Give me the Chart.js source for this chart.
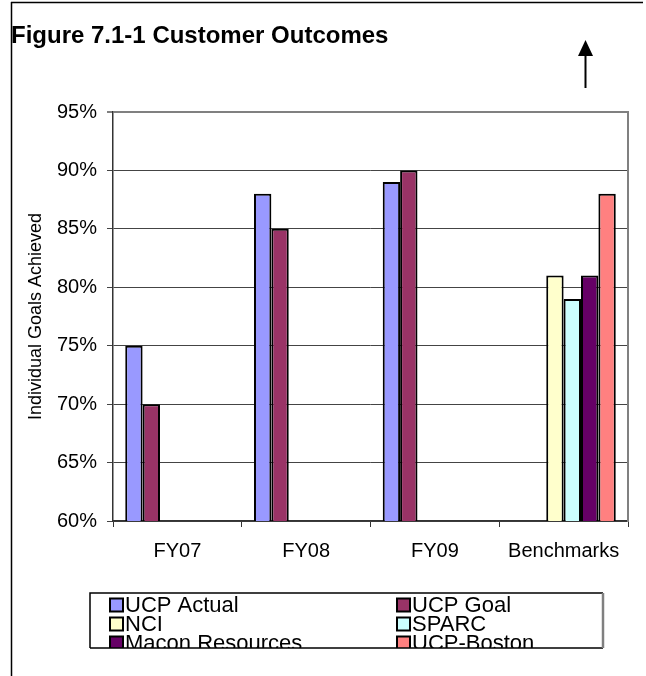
<!DOCTYPE html>
<html>
<head>
<meta charset="utf-8">
<script src="https://cdn.jsdelivr.net/npm/chart.js@4.4.1/dist/chart.umd.min.js"></script>
<style>
  html, body { margin: 0; padding: 0; background: #fff; }
  #wrap { width: 646px; height: 676px; }
</style>
</head>
<body>
<div id="wrap"><canvas id="chart" width="646" height="676"></canvas></div>
<script>
// categories and series
const categories = ['FY07', 'FY08', 'FY09', 'Benchmarks'];
const ucpActual = [75, 88, 89, null];
const ucpGoal = [70, 85, 90, null];
const nci = [null, null, null, 81];
const sparc = [null, null, null, 79];
const maconResources = [null, null, null, 81];
const ucpBoston = [null, null, null, 88];

const seriesNames = ['UCP Actual', 'UCP Goal', 'NCI', 'SPARC', 'Macon Resources', 'UCP-Boston'];
const seriesValues = [ucpActual, ucpGoal, nci, sparc, maconResources, ucpBoston];
const seriesColors = ['#9999ff', '#993366', '#ffffcc', '#ccffff', '#660066', '#ff8080'];

const yMin = 60, yMax = 95, yStep = 5;

const FONT = '"Liberation Sans", Arial, sans-serif';

// title, arrow, outer frame, plot border and the clipped legend box
const extras = {
  id: 'extras',
  afterDraw(chart) {
    const ctx = chart.ctx;
    const area = chart.chartArea;
    ctx.save();

    // outer frame (top and left only)
    ctx.strokeStyle = '#000';
    ctx.lineWidth = 1.5;
    ctx.beginPath();
    ctx.moveTo(11, 2.5); ctx.lineTo(643, 2.5);
    ctx.moveTo(11.5, 2); ctx.lineTo(11.5, 676);
    ctx.stroke();

    // title
    ctx.fillStyle = '#000';
    ctx.font = 'bold 24px ' + FONT;
    ctx.textBaseline = 'middle';
    ctx.textAlign = 'left';
    ctx.fillText('Figure 7.1-1 Customer Outcomes', 11, 36);

    // arrow
    ctx.lineWidth = 2;
    ctx.beginPath();
    ctx.moveTo(585.5, 54); ctx.lineTo(585.5, 88);
    ctx.stroke();
    ctx.beginPath();
    ctx.moveTo(585.5, 40); ctx.lineTo(578, 56); ctx.lineTo(593, 56);
    ctx.closePath();
    ctx.fill();

    // plot area right border
    ctx.strokeStyle = '#808080';
    ctx.lineWidth = 2;
    ctx.beginPath();
    ctx.moveTo(area.right, area.top - 1); ctx.lineTo(area.right, area.bottom + 1);
    ctx.stroke();

    // legend box, last row cut off by its bottom edge
    const bx = 90, by = 593, bw = 513, bh = 55;
    ctx.fillStyle = '#fff';
    ctx.fillRect(bx, by, bw, bh);
    ctx.save();
    ctx.beginPath();
    ctx.rect(bx, by, bw, bh);
    ctx.clip();
    ctx.font = '22px ' + FONT;
    ctx.textBaseline = 'middle';
    chart.data.datasets.forEach((ds, i) => {
      const col = i % 2, row = Math.floor(i / 2);
      const x = col === 0 ? 110 : 397;
      const y = 605 + row * 19;
      ctx.fillStyle = ds.backgroundColor;
      ctx.fillRect(x, y - 6.5, 13, 13);
      ctx.strokeStyle = '#000';
      ctx.lineWidth = 2;
      ctx.strokeRect(x, y - 6.5, 13, 13);
      ctx.fillStyle = '#000';
      ctx.fillText(ds.label, x + 15, y + 1);
    });
    ctx.restore();
    ctx.strokeStyle = '#000';
    ctx.lineWidth = 1.5;
    ctx.beginPath();
    ctx.moveTo(bx, by + bh); ctx.lineTo(bx, by); ctx.lineTo(bx + bw, by);
    ctx.moveTo(bx, by + bh); ctx.lineTo(bx + bw, by + bh);
    ctx.stroke();
    ctx.strokeStyle = '#808080';
    ctx.lineWidth = 2.5;
    ctx.beginPath();
    ctx.moveTo(bx + bw, by); ctx.lineTo(bx + bw, by + bh);
    ctx.stroke();

    ctx.restore();
  }
};

const datasets = seriesNames.map((name, i) => ({
  label: name,
  data: seriesValues[i],
  backgroundColor: seriesColors[i],
  borderColor: '#000',
  borderWidth: 2,
  borderSkipped: false,
  categoryPercentage: 0.81,
  barPercentage: 1.0
}));

new Chart(document.getElementById('chart'), {
  type: 'bar',
  data: { labels: categories, datasets: datasets },
  plugins: [extras],
  options: {
    responsive: false,
    animation: false,
    devicePixelRatio: 1,
    layout: { padding: { top: 112, right: 18, left: 0, bottom: 0 } },
    plugins: {
      legend: { display: false },
      title: { display: false },
      tooltip: { enabled: false }
    },
    scales: {
      x: {
        afterFit(scale) { scale.height = 155; },
        grid: {
          display: true,
          drawOnChartArea: false,
          drawTicks: true,
          tickLength: 6,
          offset: true,
          color: '#333'
        },
        border: { display: true, color: '#333', width: 1.5 },
        ticks: {
          color: '#000',
          padding: 12,
          font: { family: FONT, size: 20 }
        }
      },
      y: {
        min: yMin,
        max: yMax,
        afterFit(scale) { scale.width = 113; },
        ticks: {
          stepSize: yStep,
          color: '#000',
          padding: 10,
          font: { family: FONT, size: 20 },
          callback: v => v + '%'
        },
        grid: {
          drawTicks: true,
          tickLength: 6,
          color: ctx => ctx.tick && ctx.tick.value === yMax ? '#808080' : '#444',
          lineWidth: ctx => ctx.tick && ctx.tick.value === yMax ? 2 : 1
        },
        border: { display: true, color: '#333', width: 1.5 },
        title: {
          display: true,
          text: 'Individual Goals Achieved',
          color: '#000',
          padding: { top: 25, bottom: 0 },
          font: { family: FONT, size: 18 }
        }
      }
    }
  }
});
</script>
</body>
</html>
